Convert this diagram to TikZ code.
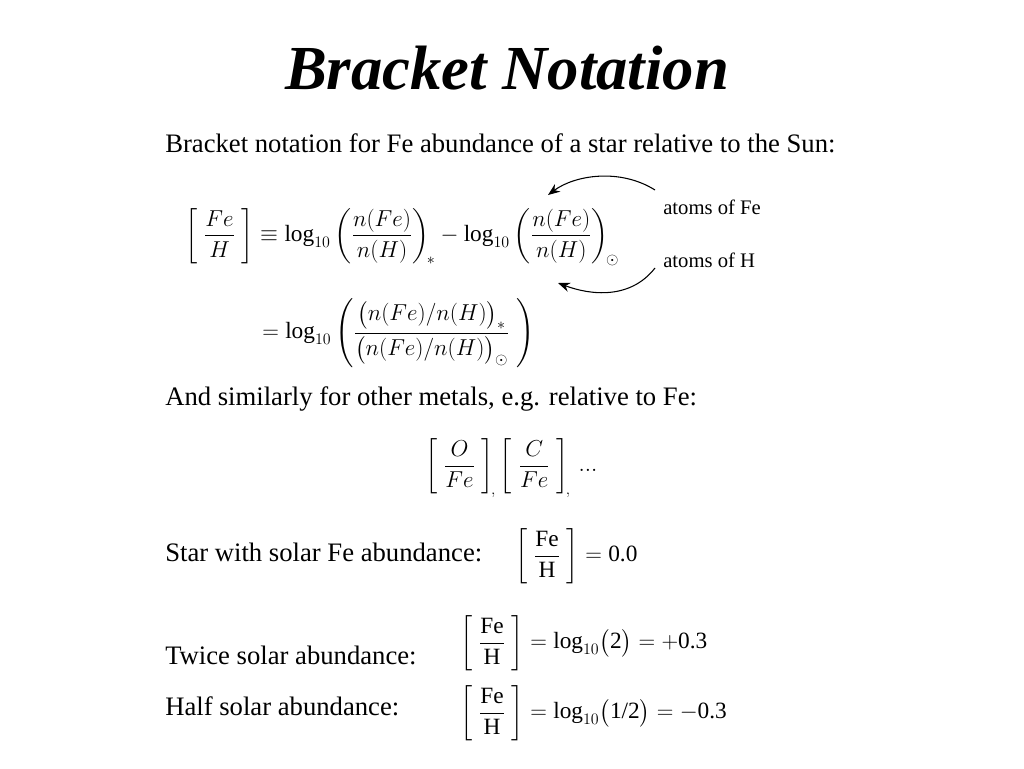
\documentclass[tikz,border=0pt]{standalone}
\usepackage{amsmath}
\usepackage{fontspec}
\setmainfont{Liberation Serif}
\usetikzlibrary{arrows.meta}
\begin{document}
\begin{tikzpicture}[x=0.75pt,y=-0.75pt,
  txt/.style={anchor=west,inner sep=0pt,font=\fontsize{20}{24}\selectfont},
  eq/.style={anchor=west,inner sep=0pt,font=\fontsize{17.5}{21}\selectfont},
  lbl/.style={anchor=west,inner sep=0pt,font=\fontsize{15.5}{18}\selectfont},
  arr/.style={-{Stealth[length=9pt,width=7pt]},thick}]
\useasboundingbox (0,0) rectangle (1024,768);
\node[inner sep=0pt,font=\fontsize{47}{54}\selectfont\bfseries\itshape] (title) at (507,68) {Bracket Notation};
\node[txt] (t1) at (165,143) {Bracket notation for Fe abundance of a star relative to the Sun:};
\node[eq] (e1) at (185,237) {$\left[\;\dfrac{Fe}{H}\;\right]\equiv\log_{10}\left(\dfrac{n(Fe)}{n(H)}\right)_{\!*}-\log_{10}\left(\dfrac{n(Fe)}{n(H)}\right)_{\!\odot}$};
\node[lbl] (l1) at (663,207) {atoms of Fe};
\node[lbl] (l2) at (663,260) {atoms of H};
\coordinate (p1) at (548,195);
\coordinate (p2) at (558,283);
\draw[arr] (655,190) .. controls (620,168) and (575,175) .. (p1);
\draw[arr] (655,268) .. controls (630,300) and (590,295) .. (p2);
\node[eq] (e2) at (262,333) {$=\log_{10}\left(\dfrac{\bigl(n(Fe)/n(H)\bigr)_{*}}{\bigl(n(Fe)/n(H)\bigr)_{\odot}}\;\right)$};
\node[txt] (t2) at (165,399) {And similarly for other metals, e.g. relative to Fe:};
\node[eq] (e3) at (425,468) {$\left[\;\dfrac{O}{Fe}\;\right]_{\!,}\left[\;\dfrac{C}{Fe}\;\right]_{\!,}\,...$};
\node[txt] (t3) at (165,552) {Star with solar Fe abundance:};
\node[eq] (e4) at (515,556) {$\left[\;\dfrac{\text{Fe}}{\text{H}}\;\right]=\text{0.0}$};
\node[txt] (t4) at (165,655) {Twice solar abundance:};
\node[eq] (e5) at (460,643) {$\left[\;\dfrac{\text{Fe}}{\text{H}}\;\right]=\log_{10}\bigl(\text{2}\bigr)=+\text{0.3}$};
\node[txt] (t5) at (165,706) {Half solar abundance:};
\node[eq] (e6) at (460,713) {$\left[\;\dfrac{\text{Fe}}{\text{H}}\;\right]=\log_{10}\bigl(\text{1/2}\bigr)=-\text{0.3}$};
\end{tikzpicture}
\end{document}
